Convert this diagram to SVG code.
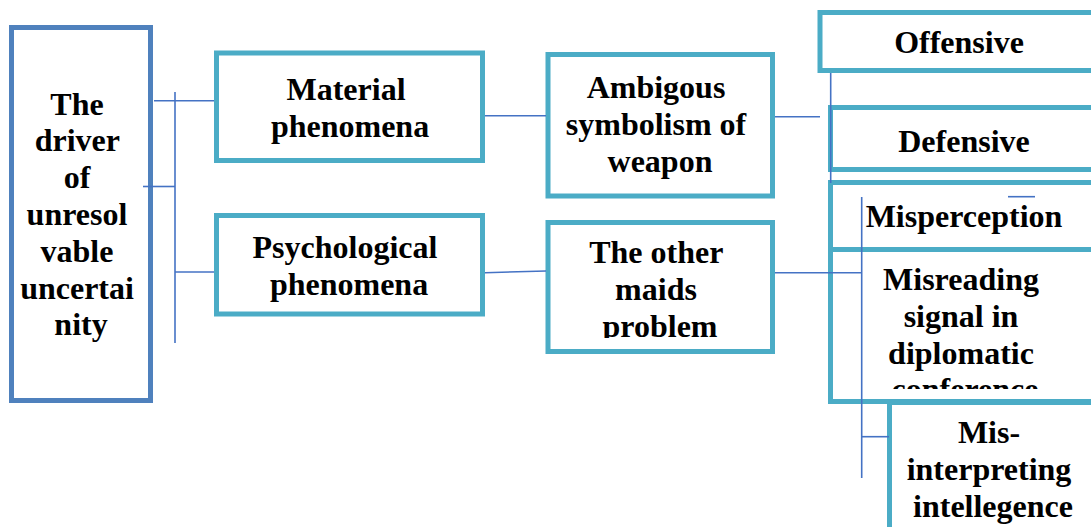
<svg xmlns="http://www.w3.org/2000/svg" width="1091" height="527" viewBox="0 0 1091 527">
  <style>
    .box { fill: #ffffff; stroke: #4bacc6; stroke-width: 5; }
    .root { fill: #ffffff; stroke: #4f81bd; stroke-width: 5; }
    .lbl { font-family: "Liberation Serif", "Times New Roman", "DejaVu Serif", serif; font-weight: bold; font-size: 32px; fill: #000000; text-anchor: middle; }
    .wire { stroke: #4472c4; stroke-width: 1.6; fill: none; }
  </style>
  <defs>
    <clipPath id="clipOther"><rect x="548" y="222" width="224" height="116"/></clipPath>
    <clipPath id="clipMisread"><rect x="830" y="250" width="300" height="139"/></clipPath>
  </defs>
  <rect width="1091" height="527" fill="#ffffff"/>

  <g id="node-driver">
    <rect class="root" x="11.5" y="27.5" width="139" height="373"/>
    <text class="lbl">
      <tspan x="81" y="114.5">The</tspan>
      <tspan x="81" y="151.3">driver</tspan>
      <tspan x="81" y="188.1">of</tspan>
      <tspan x="81" y="224.9">unresol</tspan>
      <tspan x="81" y="261.7">vable</tspan>
      <tspan x="81" y="298.5">uncertai</tspan>
      <tspan x="81" y="335.3">nity</tspan>
    </text>
  </g>

  <g id="node-material">
    <rect class="box" x="216.5" y="53" width="266" height="107.5"/>
    <text class="lbl">
      <tspan x="350" y="100">Material</tspan>
      <tspan x="350" y="136.7">phenomena</tspan>
    </text>
  </g>

  <g id="node-psychological">
    <rect class="box" x="216.5" y="215.5" width="266" height="98.5"/>
    <text class="lbl">
      <tspan x="349" y="258.3">Psychological</tspan>
      <tspan x="349" y="295">phenomena</tspan>
    </text>
  </g>

  <g id="node-ambiguous">
    <rect class="box" x="548" y="54.5" width="224.5" height="141.5"/>
    <text class="lbl">
      <tspan x="660" y="98.3">Ambigous</tspan>
      <tspan x="660" y="135">symbolism of</tspan>
      <tspan x="660" y="171.7">weapon</tspan>
    </text>
  </g>

  <g id="node-other-minds">
    <rect class="box" x="548" y="222.5" width="224.5" height="129"/>
    <text class="lbl" clip-path="url(#clipOther)">
      <tspan x="660" y="263.3">The other</tspan>
      <tspan x="660" y="300">maids</tspan>
      <tspan x="660" y="336.7">problem</tspan>
    </text>
  </g>

  <g id="node-offensive">
    <rect class="box" x="820" y="12.5" width="300" height="58"/>
    <text class="lbl" x="959" y="53.3">Offensive</text>
  </g>

  <g id="node-defensive">
    <rect class="box" x="830.5" y="107.5" width="300" height="62"/>
    <text class="lbl" x="964" y="151.7">Defensive</text>
  </g>

  <g id="node-misperception">
    <rect class="box" x="830.5" y="182.5" width="300" height="67"/>
    <text class="lbl" x="964" y="226.7">Misperception</text>
  </g>

  <g id="node-misreading">
    <rect class="box" x="830.5" y="249.5" width="300" height="152"/>
    <text class="lbl" clip-path="url(#clipMisread)">
      <tspan x="965" y="290.3">Misreading</tspan>
      <tspan x="965" y="327">signal in</tspan>
      <tspan x="965" y="363.7">diplomatic</tspan>
      <tspan x="965" y="400.4">conference</tspan>
    </text>
  </g>

  <g id="node-misinterpreting">
    <rect class="box" x="889.5" y="402.5" width="300" height="160"/>
    <text class="lbl">
      <tspan x="993" y="443.3">Mis-</tspan>
      <tspan x="993" y="480">interpreting</tspan>
      <tspan x="993" y="516.7">intellegence</tspan>
    </text>
  </g>

  <g id="connectors">
    <!-- root bracket -->
    <line class="wire" x1="175" y1="92" x2="175" y2="343"/>
    <line class="wire" x1="154" y1="100.7" x2="214" y2="100.7"/>
    <line class="wire" x1="143" y1="186.5" x2="175" y2="186.5"/>
    <line class="wire" x1="175" y1="272" x2="214" y2="272"/>
    <!-- second level -->
    <line class="wire" x1="485" y1="115.8" x2="546" y2="115.8"/>
    <line class="wire" x1="485" y1="272.7" x2="546" y2="271"/>
    <!-- weapon branch -->
    <line class="wire" x1="775" y1="116.7" x2="820" y2="116.7"/>
    <line class="wire" x1="830.7" y1="73" x2="830.7" y2="183"/>
    <!-- other-minds branch -->
    <line class="wire" x1="775" y1="272.7" x2="861.7" y2="272.7"/>
    <line class="wire" x1="861.7" y1="197" x2="861.7" y2="478"/>
    <line class="wire" x1="861.7" y1="436.7" x2="889" y2="436.7"/>
    <line class="wire" x1="1008" y1="196.7" x2="1035" y2="196.7"/>
  </g>
</svg>
